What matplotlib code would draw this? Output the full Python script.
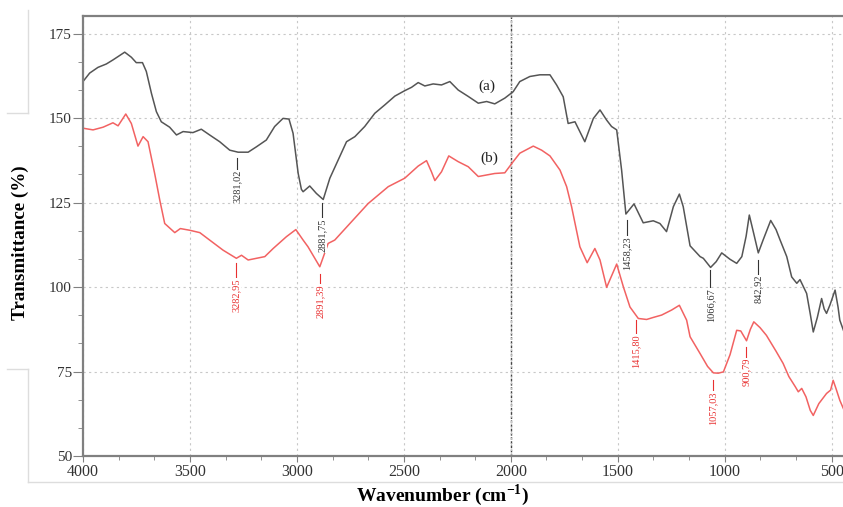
import numpy as np
import matplotlib
matplotlib.use("Agg")
import matplotlib.pyplot as plt
from matplotlib.lines import Line2D
from matplotlib.ticker import MultipleLocator

plt.rcParams['font.family'] = ['Liberation Serif', 'DejaVu Serif']
plt.rcParams['mathtext.fontset'] = 'custom'
plt.rcParams['mathtext.rm'] = 'Liberation Serif'
plt.rcParams['mathtext.bf'] = 'Liberation Serif:bold'

# spectrum (a) - grey
wn_a = [4000, 3969, 3930, 3891, 3860, 3836, 3805, 3774, 3751, 3722, 3704, 3680, 3657, 3634,
        3595, 3563, 3532, 3486, 3447, 3408, 3361, 3314, 3275, 3228, 3189, 3143, 3104, 3065,
        3037, 3018, 2994, 2979, 2971, 2940, 2909, 2877, 2846, 2807, 2768, 2729, 2683, 2636,
        2589, 2542, 2496, 2464, 2433, 2402, 2363, 2324, 2285, 2246, 2199, 2152, 2113, 2075,
        2028, 1989, 1958, 1911, 1864, 1817, 1786, 1755, 1732, 1700, 1654, 1614, 1583, 1552,
        1529, 1505, 1482, 1462, 1424, 1381, 1334, 1303, 1272, 1240, 1212, 1194, 1162, 1115,
        1100, 1066, 1040, 1014, 975, 944, 920, 900, 885, 865, 843, 820, 785, 760, 741, 710,
        687, 663, 648, 617, 600, 586, 567, 547, 535, 524, 508, 484, 470, 462, 445]
t_a = [160.8, 163.3, 165.0, 166.0, 167.2, 168.2, 169.5, 168.0, 166.4, 166.4, 163.8, 157.3,
       151.9, 148.9, 147.3, 145.0, 146.0, 145.7, 146.7, 145.0, 143.0, 140.5, 139.9, 139.9,
       141.5, 143.5, 147.5, 149.9, 149.7, 145.5, 133.6, 128.9, 128.2, 129.9, 127.7, 125.9,
       132.2, 137.6, 143.0, 144.5, 147.5, 151.4, 153.9, 156.5, 158.1, 159.1, 160.5, 159.5,
       160.1, 159.8, 160.8, 158.3, 156.4, 154.4, 154.9, 154.2, 155.9, 157.8, 160.8, 162.3,
       162.8, 162.8, 159.8, 156.3, 148.4, 148.9, 143.0, 149.9, 152.4, 149.4, 147.5, 146.5,
       134.6, 121.6, 124.6, 119.0, 119.6, 118.8, 116.4, 123.8, 127.5, 123.8, 112.2, 109.0,
       108.5, 105.8, 107.5, 110.1, 108.2, 107.0, 109.0, 115.0, 121.3, 116.0, 110.1, 114.0,
       119.7, 117.0, 113.9, 109.0, 103.0, 101.1, 102.2, 98.1, 92.0, 86.7, 91.0, 96.6, 93.5,
       92.2, 94.7, 99.1, 94.0, 90.2, 87.2]

# spectrum (b) - red
wn_b = [4000, 3953, 3906, 3860, 3836, 3800, 3774, 3743, 3719, 3696, 3665, 3641, 3618, 3571,
        3545, 3501, 3454, 3408, 3345, 3283, 3259, 3228, 3150, 3111, 3049, 3005, 2971, 2948,
        2893, 2854, 2823, 2745, 2667, 2573, 2496, 2433, 2394, 2371, 2355, 2324, 2290, 2246,
        2199, 2152, 2075, 2028, 1989, 1958, 1895, 1856, 1817, 1770, 1739, 1716, 1677, 1643,
        1607, 1583, 1552, 1505, 1474, 1443, 1404, 1365, 1334, 1295, 1248, 1212, 1178, 1162,
        1115, 1080, 1053, 1030, 1006, 975, 944, 925, 898, 880, 864, 835, 805, 760, 727, 700,
        670, 656, 640, 620, 600, 586, 560, 524, 505, 493, 480, 462, 445]
t_b = [147.0, 146.5, 147.3, 148.6, 147.7, 151.2, 148.4, 141.7, 144.5, 143.0, 133.6, 125.7,
       118.8, 116.1, 117.3, 116.8, 116.1, 113.9, 110.9, 108.5, 109.4, 108.0, 109.0, 111.4,
       114.9, 117.0, 113.9, 111.9, 106.0, 112.9, 113.9, 119.3, 124.7, 129.7, 132.2, 135.8,
       137.4, 134.1, 131.5, 134.1, 138.8, 137.1, 135.6, 132.7, 133.6, 133.8, 137.1, 139.6,
       141.7, 140.5, 138.8, 134.6, 129.7, 123.8, 111.9, 107.2, 111.4, 108.0, 99.9, 106.8,
       100.1, 94.1, 90.7, 90.4, 91.0, 91.7, 93.2, 94.6, 90.2, 85.3, 80.3, 76.5, 74.6, 74.5,
       74.9, 80.0, 87.2, 87.0, 84.1, 87.5, 89.7, 88.0, 85.7, 81.0, 77.4, 73.5, 70.5, 69.0,
       70.0, 67.5, 63.5, 62.0, 65.5, 68.5, 69.5, 72.4, 70.0, 66.5, 64.0]

# peak labels: position, leader top, leader bottom
peaks_a = [3281.02, 2881.75, 1458.23, 1066.67, 842.92]
lead_top_a = [138.2, 124.8, 119.7, 105.0, 108.0]
lead_bot_a = [135.0, 120.6, 115.4, 100.1, 104.0]
peaks_b = [3282.95, 2891.39, 1415.80, 1057.03, 900.79]
lead_top_b = [107.0, 104.0, 90.2, 72.4, 82.3]
lead_bot_b = [103.0, 101.2, 86.3, 69.4, 79.4]

grey = '#555555'
red = '#f26262'

fig = plt.figure(figsize=(8.43, 5.07), dpi=100)
ax = fig.add_axes([83 / 843, 1 - 456 / 507, 760 / 843, 440 / 507])

ax.plot(wn_a, t_a, color=grey, lw=1.1)
ax.plot(wn_b, t_b, color=red, lw=1.1)

ax.axvline(2000, color='#444444', lw=1.0, ls=(0, (2, 1)), zorder=1)

for p, y0, y1 in zip(peaks_a, lead_top_a, lead_bot_a):
    ax.plot([p, p], [y0, y1], color='#333333', lw=0.8)
    ax.text(p, y1 - 0.4, f"{p:.2f}".replace('.', ','), rotation=90, ha='center', va='top',
            fontsize=7.5, color='#333333', zorder=5,
            bbox=dict(facecolor='white', edgecolor='none', pad=0.2))
for p, y0, y1 in zip(peaks_b, lead_top_b, lead_bot_b):
    ax.plot([p, p], [y0, y1], color='#e83030', lw=0.8)
    ax.text(p, y1 - 0.4, f"{p:.2f}".replace('.', ','), rotation=90, ha='center', va='top',
            fontsize=7.5, color='#e83030', zorder=5,
            bbox=dict(facecolor='white', edgecolor='none', pad=0.2))

ax.text(2113, 159.3, '(a)', fontsize=11, ha='center', va='center', color='#222222')
ax.text(2099, 138.1, '(b)', fontsize=11, ha='center', va='center', color='#222222')

ax.set_xlim(4000, 447)
ax.set_ylim(50, 180.2)
ax.xaxis.set_major_locator(MultipleLocator(500))
ax.xaxis.set_minor_locator(MultipleLocator(500 / 3))
ax.yaxis.set_major_locator(MultipleLocator(25))
ax.yaxis.set_minor_locator(MultipleLocator(25 / 3))
ax.grid(True, which='major', color='#c8c8c8', ls=(0, (2, 3)), lw=0.8)

for s in ['left', 'bottom', 'top']:
    ax.spines[s].set_color('#808080')
    ax.spines[s].set_linewidth(1.6)
ax.spines['right'].set_visible(False)
ax.tick_params(axis='y', which='major', direction='out', length=7, color='#808080',
               labelsize=11, labelcolor='#333333', pad=1)
ax.tick_params(axis='y', which='minor', direction='out', length=3.5, color='#808080')
ax.tick_params(axis='x', which='major', direction='out', length=4, color='#808080',
               labelsize=11.5, labelcolor='#333333', pad=2)
ax.tick_params(axis='x', which='minor', direction='out', length=3, color='#808080')

ax.set_xlabel(r'Wavenumber (cm$^{\mathbf{-1}}$)', fontsize=14, fontweight='bold')
ax.xaxis.set_label_coords((443 - 83) / 760, -0.06)
ax.set_ylabel('Transmittance (%)', fontsize=13.7, fontweight='bold')
ax.yaxis.set_label_coords((29 - 83) / 760, 1 - (243 - 16) / 440)

# faint frame pieces around the plot
frame = '#dddddd'
for xs, ys in [([7, 28], [113, 113]), ([28, 28], [10, 113]), ([7, 28], [369, 369]),
               ([28, 28], [369, 482]), ([28, 843], [482, 482])]:
    fig.add_artist(Line2D([x / 843 for x in xs], [1 - y / 507 for y in ys],
                          color=frame, lw=1.0))

fig.savefig('out.png', dpi=100)
